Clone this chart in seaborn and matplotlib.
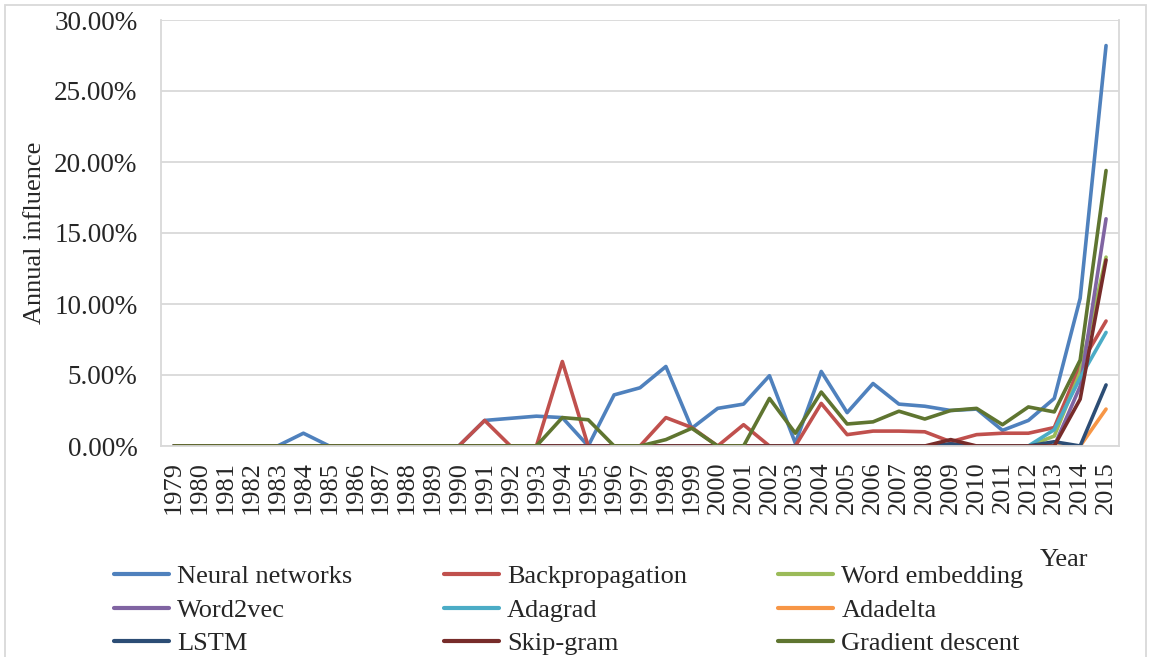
import matplotlib
matplotlib.use("Agg")
import matplotlib.pyplot as plt
import seaborn as sns
import pandas as pd
from matplotlib.patches import Rectangle

years = list(range(1979, 2016))

neural_networks = [0, 0, 0, 0, 0, 0.9, 0, 0, 0, 0, 0, 0, 1.8, 1.95, 2.1, 2.0, 0, 3.6, 4.1, 5.6,
                   1.25, 2.65, 2.95, 4.95, 0.2, 5.25, 2.35, 4.4, 2.95, 2.8, 2.5, 2.6, 1.1, 1.8, 3.35, 10.4, 28.2]
backpropagation = [0, 0, 0, 0, 0, 0, 0, 0, 0, 0, 0, 0, 1.8, 0, 0, 5.95, 0, 0, 0, 2.0,
                   1.3, 0, 1.5, 0, 0, 3.0, 0.8, 1.05, 1.05, 1.0, 0.3, 0.8, 0.9, 0.9, 1.3, 5.7, 8.8]
word_embedding = [0] * 34 + [0.7, 5.2, 13.3]
word2vec = [0] * 34 + [0.0, 4.2, 16.0]
adagrad = [0] * 34 + [1.15, 4.8, 8.0]
adadelta = [0] * 34 + [0, 0, 2.6]
lstm = [0] * 30 + [0.15, 0, 0, 0, 0.3, 0, 4.3]
skip_gram = [0] * 30 + [0.45, 0, 0, 0, 0, 3.3, 13.1]
gradient_descent = [0, 0, 0, 0, 0, 0, 0, 0, 0, 0, 0, 0, 0, 0, 0, 2.0, 1.85, 0, 0, 0.45,
                    1.25, 0, 0, 3.35, 0.9, 3.8, 1.55, 1.7, 2.45, 1.9, 2.5, 2.65, 1.5, 2.75, 2.4, 6.05, 19.4]

series_names = ["Neural networks", "Backpropagation", "Word embedding", "Word2vec", "Adagrad",
                "Adadelta", "LSTM", "Skip-gram", "Gradient descent"]
series_values = [neural_networks, backpropagation, word_embedding, word2vec, adagrad,
                 adadelta, lstm, skip_gram, gradient_descent]
colors = ["#4F81BD", "#C0504D", "#9BBB59", "#8064A2", "#4BACC6",
          "#F79646", "#2C4D75", "#772C2A", "#5F7530"]
y_ticks = [0, 5, 10, 15, 20, 25, 30]

rows = []
for name, vals in zip(series_names, series_values):
    for yr, v in zip(years, vals):
        rows.append({"Year": yr, "value": v, "series": name})
df = pd.DataFrame(rows)

sns.set_theme(style="white")
plt.rcParams["font.family"] = ["Liberation Serif", "DejaVu Serif"]

W, H = 1151, 657
fig = plt.figure(figsize=(W / 100, H / 100), dpi=100)
ax = fig.add_axes([161 / W, 1 - 446 / H, (1119 - 161) / W, (446 - 20) / H])

sns.lineplot(data=df, x="Year", y="value", hue="series", hue_order=series_names,
             palette=dict(zip(series_names, colors)), linewidth=2.6, ax=ax,
             legend=True, solid_capstyle="round", solid_joinstyle="round")

ax.set_xlim(years[0] - 0.5, years[-1] + 0.5)
ax.set_ylim(0, 30)
ax.set_xticks(years)
ax.set_xticklabels([str(y) for y in years], rotation=90, fontsize=19)
ax.set_yticks(y_ticks)
ax.set_yticklabels([f"{v:.2f}%" for v in y_ticks], fontsize=19.5)
ax.tick_params(axis="y", length=0, pad=17)
ax.tick_params(axis="x", length=0, pad=11)
ax.yaxis.grid(True, color="#D9D9D9", linewidth=1.3)
ax.xaxis.grid(False)
ax.set_axisbelow(True)
ax.set_xlabel("")
ax.set_ylabel("")
for side in ["left", "right", "bottom"]:
    ax.spines[side].set_color("#D9D9D9")
    ax.spines[side].set_linewidth(1.3)
ax.spines["top"].set_visible(False)

handles, labels = ax.get_legend_handles_labels()
ax.get_legend().remove()
order = [0, 3, 6, 1, 4, 7, 2, 5, 8]
leg = fig.legend([handles[i] for i in order], [labels[i] for i in order],
                 ncol=3, loc="upper left", bbox_to_anchor=(114 / W, 1 - 565 / H),
                 frameon=False, fontsize=19, handlelength=2.1, handletextpad=0.3,
                 columnspacing=3.45, labelspacing=0.38, borderpad=0, borderaxespad=0)
for line in leg.get_lines():
    line.set_linewidth(3)

fig.text(35 / W, 1 - 233 / H, "Annual influence", rotation=90, ha="center", va="center", fontsize=19)
fig.text(1064 / W, 1 - 560 / H, "Year", ha="center", va="center", fontsize=19)

fig.patches.append(Rectangle((5 / W, -0.1), (1146 - 5) / W, 1.1 - 5 / H, transform=fig.transFigure,
                             fill=False, edgecolor="#D9D9D9", linewidth=1.3))

fig.savefig("out.png", dpi=100)
